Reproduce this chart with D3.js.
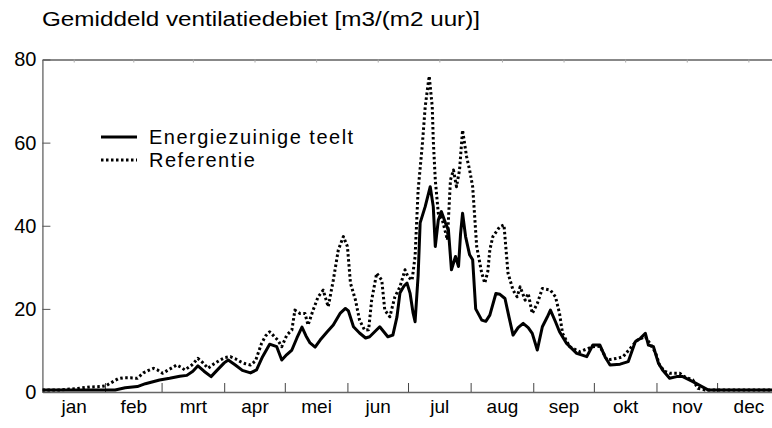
<!DOCTYPE html>
<html>
<head>
<meta charset="utf-8">
<script src="https://d3js.org/d3.v7.min.js"></script>
<style>
  body { margin: 0; background: #fff; }
  svg { display: block; }
  .lijn { fill: none; stroke: #000; stroke-linejoin: round; }
  .txt { font-family: "Liberation Sans", Arial, sans-serif; fill: #000; }
</style>
</head>
<body>
<svg width="772" height="428"></svg>
<script>
// maanden en grenzen (dag van het jaar)
const maanden = ["jan","feb","mrt","apr","mei","jun","jul","aug","sep","okt","nov","dec"];
const grenzen = [0,31,59,90,120,151,181,212,243,273,304,334,365];
const yTicks = [0,20,40,60,80];
const reeksNamen = ["Energiezuinige teelt", "Referentie"];

// Energiezuinige teelt (dag, waarde)
const dagenEnergie = [0,14,28.5,36,41,47,51,58,63,68,71.5,74.5,77,80,83.5,87,90,92,95.5,99,103,106,109,112.5,116,118.5,121,123.5,126,128.5,130.5,132.5,135,137.5,141,144,147.5,150,151.5,154,157,160,162,164.5,167,169,171,173.5,175.5,177,179,180.5,182,183.5,184.5,186,187,189.5,192,193.5,194.5,196,197.5,199.5,201,202.5,204.5,206,207,208,209.5,211.5,213,214.5,217.5,219.5,221.5,224.5,226.5,229,231,233,235.5,238,240.5,242.5,245,247.5,250,251.5,254,256,259.5,264.5,269.5,272.5,276,278.5,281,286,290,293.5,296,298.5,300,302.5,305,307,310.5,314,317,322,326.5,329.5,345,365];
const energie = [0.5,0.5,0.5,0.5,1.0,1.3,2.0,2.9,3.3,3.8,4.0,5.0,6.3,5.0,3.7,5.5,7.0,7.7,6.5,5.2,4.6,5.3,8.5,11.5,10.9,7.7,9.0,10.1,13.0,15.6,13.5,11.8,10.8,12.5,14.5,16.1,19.0,20.1,19.5,15.7,14.2,13.0,13.3,14.5,15.7,14.5,13.3,13.7,18.0,23.8,25.5,26.2,23.8,19.0,16.9,28.0,40.7,44.6,49.4,44.6,35.0,41.4,43.4,40.7,39.0,29.4,32.6,30.2,38.0,43.0,37.4,33.0,31.8,20.0,17.3,17.0,18.5,23.7,23.5,22.5,18.0,13.7,15.5,16.5,15.5,14.1,10.1,15.7,18.1,19.7,16.9,14.5,11.7,9.3,8.5,11.3,11.3,8.5,6.5,6.7,7.3,12.1,12.9,14.1,11.3,10.9,6.9,5.3,3.3,3.7,3.7,2.5,1.3,0.5,0.5,0.5];

// Referentie (dag, waarde)
const dagenReferentie = [0,9,16,23.5,28.5,31.5,33.5,35,37.5,40,43.5,47,50,52.5,55,57,59.5,63,66.5,68.5,70.5,74,77,79.5,82,85,88,90.5,93,95.5,98,100.5,103,105.5,108.5,110.5,112.5,114.5,116.5,118.5,121,123.5,125,127.5,130,131.5,134,136.5,139,141.5,144,146.5,149,151,152.5,155,157,159.5,161.5,163,165.5,168,169.5,172,174.5,177,179.5,181,183,184.5,186,188,189.5,191,191.5,193,193.5,194.5,196,198,200.5,202,203.5,205,206.5,208,210,211.5,213,215,217.5,219,220.5,221.5,223,226.5,228.5,230.5,233,235,236.5,239,240.5,242.5,245,247.5,251.5,254,256,257.5,261,266,272.5,276,279.5,284.5,287.5,291,294.5,298.5,301,303.5,305.5,308,310.5,315.5,318.5,322,324.5,328,365];
const referentie = [0.5,0.5,0.8,1.2,1.3,1.5,2.1,2.5,3.2,3.4,3.4,3.3,4.6,5.2,5.7,5.3,4.5,5.5,6.5,6.0,5.3,6.5,8.1,7.0,5.7,6.8,7.7,8.3,8.5,8.0,7.3,6.8,6.5,7.5,11.7,13.5,14.5,13.5,12.5,10.9,13.7,14.9,19.7,18.9,18.9,16.1,19.7,22.9,24.5,20.5,26.9,34.2,37.4,35.0,26.2,22.1,17.3,14.9,15.0,22.1,28.6,26.9,19.7,18.1,22.9,25.3,29.4,27.7,26.9,32.6,48.6,59.0,68.6,74.3,76.0,68.6,60.6,51.0,43.0,41.4,36.6,51.0,53.4,49.4,53.4,63.0,56.6,53.4,49.4,35.0,28.6,26.2,29.0,34.2,37.4,39.8,40.2,28.6,24.5,22.9,25.3,22.1,23.7,18.9,21.3,24.9,24.5,22.9,18.9,14.1,10.9,9.7,10.9,11.0,7.7,8.1,8.5,10.5,12.5,13.3,11.5,9.5,6.5,5.0,4.5,4.5,3.5,2.9,0.9,0.5,0.5];

let svg = d3.select("svg"),
    width = +svg.attr("width"),
    height = +svg.attr("height");

// schalen
let x = d3.scaleLinear().domain([0, 365]).range([42.4, 779.7]),
    y = d3.scaleLinear().domain([0, 80]).range([392, 59.5]);

let midden = grenzen.slice(0, 12).map((g, i) => (g + grenzen[i + 1]) / 2);

// titel
svg.append("text")
  .attr("class", "txt")
  .attr("x", 42)
  .attr("y", 26)
  .attr("font-size", "20px")
  .attr("textLength", 438)
  .attr("lengthAdjust", "spacingAndGlyphs")
  .text("Gemiddeld ventilatiedebiet [m3/(m2 uur)]");

// bovenrand met korte streepjes halverwege de maand
let boven = svg.append("g")
  .attr("transform", "translate(0," + y(80) + ")")
  .call(d3.axisBottom(x).tickValues(midden).tickSizeInner(3).tickSizeOuter(0).tickFormat(""));
boven.select(".domain").attr("stroke", "#888").attr("stroke-width", 2);
boven.selectAll(".tick line").attr("stroke", "#aaa");

// x-as onder: streepjes op maandgrenzen, naar binnen
let onder = svg.append("g")
  .attr("transform", "translate(0," + y(0) + ")")
  .call(d3.axisBottom(x).tickValues(grenzen.slice(1, 12)).tickSizeInner(-9).tickSizeOuter(0).tickFormat(""));
onder.select(".domain").attr("stroke", "#666").attr("stroke-width", 1.5);
onder.selectAll(".tick line").attr("stroke", "#444");

// maandnamen
let labels = svg.append("g")
  .attr("transform", "translate(0," + y(0) + ")")
  .call(d3.axisBottom(x).tickValues(midden).tickSize(0).tickPadding(8).tickFormat((d, i) => maanden[i]));
labels.select(".domain").remove();
labels.selectAll("text")
  .attr("class", "txt")
  .attr("font-size", "19px");

// y-as
let links = svg.append("g")
  .attr("transform", "translate(" + x(0) + ",0)")
  .call(d3.axisLeft(y).tickValues(yTicks).tickSizeInner(-8).tickSizeOuter(0).tickPadding(6));
links.select(".domain").attr("stroke", "#777").attr("stroke-width", 1.5);
links.selectAll(".tick line").attr("stroke", "#555");
links.selectAll("text")
  .attr("class", "txt")
  .attr("font-size", "20px");

// lijnen
let lijn = d3.line()
  .x(d => x(d[0]))
  .y(d => y(d[1]));

svg.append("defs").append("clipPath").attr("id", "plot")
  .append("rect").attr("x", x(0)).attr("y", 0).attr("width", width).attr("height", y(0) + 1);

let plot = svg.append("g").attr("clip-path", "url(#plot)");

plot.append("path")
  .datum(d3.zip(dagenReferentie, referentie))
  .attr("class", "lijn")
  .attr("stroke-width", 3)
  .attr("stroke-dasharray", "2.5,2.5")
  .attr("d", lijn);

plot.append("path")
  .datum(d3.zip(dagenEnergie, energie))
  .attr("class", "lijn")
  .attr("stroke-width", 3)
  .attr("d", lijn);

// legenda
let legenda = svg.append("g");
reeksNamen.forEach(function(naam, i) {
  let ly = 137 + i * 23;
  legenda.append("line")
    .attr("x1", 101).attr("x2", 137)
    .attr("y1", ly).attr("y2", ly)
    .attr("stroke", "#000")
    .attr("stroke-width", 3)
    .attr("stroke-dasharray", i === 1 ? "2.5,2.5" : null);
  legenda.append("text")
    .attr("class", "txt")
    .attr("x", 149)
    .attr("y", ly)
    .attr("dy", "0.35em")
    .attr("font-size", "20px")
    .attr("letter-spacing", "1.5px")
    .text(naam);
});
</script>
</body>
</html>
